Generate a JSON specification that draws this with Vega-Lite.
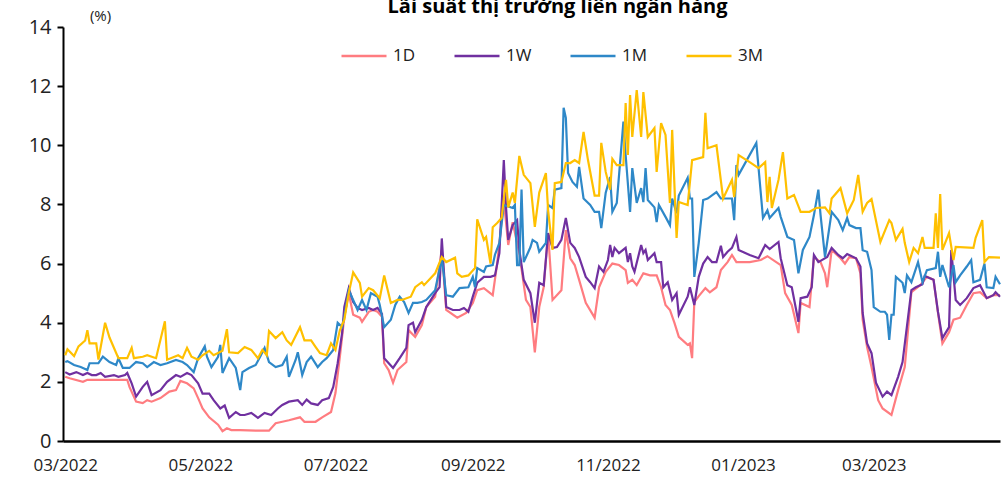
{
"$schema": "https://vega.github.io/schema/vega-lite/v6.json",
"width": 937, "height": 414,
"autosize": {"type": "none"},
"padding": {"left": 63, "top": 27, "right": 6, "bottom": 38},
"background": "white",
"config": {"view": {"stroke": null}, "font": "Open Sans"},
"title": {"text": "Lãi suất thị trường liên ngân hàng", "fontSize": 20, "fontWeight": "bold", "font": "Open Sans", "color": "#000", "anchor": "middle", "frame": "group", "dx": 26, "dy": 13},
"data": {"values": [
{"s":"1D","d":"2022-03-01","v":2.17},{"s":"1D","d":"2022-03-03","v":2.12},{"s":"1D","d":"2022-03-09","v":2.0},{"s":"1D","d":"2022-03-11","v":2.07},{"s":"1D","d":"2022-03-17","v":2.07},{"s":"1D","d":"2022-03-29","v":2.07},{"s":"1D","d":"2022-03-30","v":1.83},{"s":"1D","d":"2022-04-02","v":1.33},{"s":"1D","d":"2022-04-05","v":1.28},{"s":"1D","d":"2022-04-07","v":1.38},{"s":"1D","d":"2022-04-09","v":1.33},{"s":"1D","d":"2022-04-13","v":1.45},{"s":"1D","d":"2022-04-17","v":1.67},{"s":"1D","d":"2022-04-20","v":1.72},{"s":"1D","d":"2022-04-22","v":2.03},{"s":"1D","d":"2022-04-25","v":1.95},{"s":"1D","d":"2022-04-28","v":1.78},{"s":"1D","d":"2022-04-30","v":1.45},{"s":"1D","d":"2022-05-02","v":1.1},{"s":"1D","d":"2022-05-05","v":0.8},{"s":"1D","d":"2022-05-09","v":0.55},{"s":"1D","d":"2022-05-11","v":0.33},{"s":"1D","d":"2022-05-13","v":0.43},{"s":"1D","d":"2022-05-15","v":0.37},{"s":"1D","d":"2022-05-19","v":0.37},{"s":"1D","d":"2022-05-26","v":0.35},{"s":"1D","d":"2022-06-01","v":0.35},{"s":"1D","d":"2022-06-04","v":0.6},{"s":"1D","d":"2022-06-07","v":0.65},{"s":"1D","d":"2022-06-10","v":0.7},{"s":"1D","d":"2022-06-15","v":0.8},{"s":"1D","d":"2022-06-17","v":0.65},{"s":"1D","d":"2022-06-22","v":0.65},{"s":"1D","d":"2022-06-25","v":0.8},{"s":"1D","d":"2022-06-29","v":0.98},{"s":"1D","d":"2022-07-01","v":1.62},{"s":"1D","d":"2022-07-03","v":2.85},{"s":"1D","d":"2022-07-05","v":4.2},{"s":"1D","d":"2022-07-07","v":5.0},{"s":"1D","d":"2022-07-09","v":4.27},{"s":"1D","d":"2022-07-12","v":4.17},{"s":"1D","d":"2022-07-13","v":4.03},{"s":"1D","d":"2022-07-16","v":4.37},{"s":"1D","d":"2022-07-18","v":4.43},{"s":"1D","d":"2022-07-20","v":4.37},{"s":"1D","d":"2022-07-22","v":4.2},{"s":"1D","d":"2022-07-23","v":2.63},{"s":"1D","d":"2022-07-25","v":2.4},{"s":"1D","d":"2022-07-27","v":1.97},{"s":"1D","d":"2022-07-29","v":2.4},{"s":"1D","d":"2022-08-02","v":2.67},{"s":"1D","d":"2022-08-03","v":3.75},{"s":"1D","d":"2022-08-06","v":3.52},{"s":"1D","d":"2022-08-09","v":3.92},{"s":"1D","d":"2022-08-11","v":4.53},{"s":"1D","d":"2022-08-15","v":4.88},{"s":"1D","d":"2022-08-18","v":6.46},{"s":"1D","d":"2022-08-20","v":4.43},{"s":"1D","d":"2022-08-25","v":4.17},{"s":"1D","d":"2022-08-29","v":4.33},{"s":"1D","d":"2022-09-01","v":4.67},{"s":"1D","d":"2022-09-03","v":5.1},{"s":"1D","d":"2022-09-06","v":5.17},{"s":"1D","d":"2022-09-10","v":4.93},{"s":"1D","d":"2022-09-12","v":6.0},{"s":"1D","d":"2022-09-15","v":8.15},{"s":"1D","d":"2022-09-17","v":6.63},{"s":"1D","d":"2022-09-19","v":7.4},{"s":"1D","d":"2022-09-22","v":6.35},{"s":"1D","d":"2022-09-25","v":4.77},{"s":"1D","d":"2022-09-27","v":4.53},{"s":"1D","d":"2022-09-29","v":3.0},{"s":"1D","d":"2022-10-01","v":4.53},{"s":"1D","d":"2022-10-03","v":5.2},{"s":"1D","d":"2022-10-05","v":7.03},{"s":"1D","d":"2022-10-07","v":4.77},{"s":"1D","d":"2022-10-11","v":5.1},{"s":"1D","d":"2022-10-13","v":7.13},{"s":"1D","d":"2022-10-15","v":6.18},{"s":"1D","d":"2022-10-17","v":5.95},{"s":"1D","d":"2022-10-19","v":5.45},{"s":"1D","d":"2022-10-22","v":4.67},{"s":"1D","d":"2022-10-26","v":4.17},{"s":"1D","d":"2022-10-28","v":5.2},{"s":"1D","d":"2022-10-31","v":5.72},{"s":"1D","d":"2022-11-03","v":6.0},{"s":"1D","d":"2022-11-06","v":5.95},{"s":"1D","d":"2022-11-09","v":5.78},{"s":"1D","d":"2022-11-10","v":5.35},{"s":"1D","d":"2022-11-12","v":5.45},{"s":"1D","d":"2022-11-14","v":5.27},{"s":"1D","d":"2022-11-17","v":5.67},{"s":"1D","d":"2022-11-20","v":5.6},{"s":"1D","d":"2022-11-23","v":5.6},{"s":"1D","d":"2022-11-25","v":5.2},{"s":"1D","d":"2022-11-27","v":4.6},{"s":"1D","d":"2022-11-29","v":4.43},{"s":"1D","d":"2022-12-01","v":4.0},{"s":"1D","d":"2022-12-03","v":3.52},{"s":"1D","d":"2022-12-07","v":3.25},{"s":"1D","d":"2022-12-08","v":3.3},{"s":"1D","d":"2022-12-09","v":2.8},{"s":"1D","d":"2022-12-10","v":4.7},{"s":"1D","d":"2022-12-12","v":4.9},{"s":"1D","d":"2022-12-15","v":5.17},{"s":"1D","d":"2022-12-17","v":5.03},{"s":"1D","d":"2022-12-20","v":5.2},{"s":"1D","d":"2022-12-22","v":5.78},{"s":"1D","d":"2022-12-25","v":6.05},{"s":"1D","d":"2022-12-27","v":6.29},{"s":"1D","d":"2022-12-29","v":6.05},{"s":"1D","d":"2023-01-04","v":6.05},{"s":"1D","d":"2023-01-09","v":6.12},{"s":"1D","d":"2023-01-12","v":6.25},{"s":"1D","d":"2023-01-18","v":5.95},{"s":"1D","d":"2023-01-20","v":5.0},{"s":"1D","d":"2023-01-23","v":4.6},{"s":"1D","d":"2023-01-26","v":3.65},{"s":"1D","d":"2023-01-27","v":4.67},{"s":"1D","d":"2023-01-31","v":4.53},{"s":"1D","d":"2023-02-02","v":6.22},{"s":"1D","d":"2023-02-05","v":6.05},{"s":"1D","d":"2023-02-07","v":5.67},{"s":"1D","d":"2023-02-08","v":5.2},{"s":"1D","d":"2023-02-10","v":6.46},{"s":"1D","d":"2023-02-14","v":6.18},{"s":"1D","d":"2023-02-16","v":6.0},{"s":"1D","d":"2023-02-18","v":6.22},{"s":"1D","d":"2023-02-21","v":6.18},{"s":"1D","d":"2023-02-23","v":5.67},{"s":"1D","d":"2023-02-24","v":4.1},{"s":"1D","d":"2023-02-26","v":3.18},{"s":"1D","d":"2023-02-28","v":2.5},{"s":"1D","d":"2023-03-03","v":1.38},{"s":"1D","d":"2023-03-05","v":1.1},{"s":"1D","d":"2023-03-09","v":0.88},{"s":"1D","d":"2023-03-12","v":1.72},{"s":"1D","d":"2023-03-15","v":2.5},{"s":"1D","d":"2023-03-18","v":5.03},{"s":"1D","d":"2023-03-22","v":5.27},{"s":"1D","d":"2023-03-25","v":5.55},{"s":"1D","d":"2023-03-28","v":5.45},{"s":"1D","d":"2023-03-30","v":4.33},{"s":"1D","d":"2023-04-01","v":3.3},{"s":"1D","d":"2023-04-04","v":3.68},{"s":"1D","d":"2023-04-06","v":4.1},{"s":"1D","d":"2023-04-09","v":4.17},{"s":"1D","d":"2023-04-12","v":4.6},{"s":"1D","d":"2023-04-15","v":5.0},{"s":"1D","d":"2023-04-18","v":5.03},{"s":"1D","d":"2023-04-21","v":4.83},{"s":"1D","d":"2023-04-24","v":4.93},{"s":"1D","d":"2023-04-27","v":4.93},
{"s":"1W","d":"2022-03-01","v":2.33},{"s":"1W","d":"2022-03-03","v":2.25},{"s":"1W","d":"2022-03-06","v":2.33},{"s":"1W","d":"2022-03-09","v":2.23},{"s":"1W","d":"2022-03-11","v":2.3},{"s":"1W","d":"2022-03-13","v":2.23},{"s":"1W","d":"2022-03-15","v":2.23},{"s":"1W","d":"2022-03-17","v":2.3},{"s":"1W","d":"2022-03-19","v":2.17},{"s":"1W","d":"2022-03-23","v":2.23},{"s":"1W","d":"2022-03-25","v":2.17},{"s":"1W","d":"2022-03-28","v":2.23},{"s":"1W","d":"2022-03-29","v":2.3},{"s":"1W","d":"2022-03-31","v":1.95},{"s":"1W","d":"2022-04-02","v":1.5},{"s":"1W","d":"2022-04-05","v":1.83},{"s":"1W","d":"2022-04-07","v":2.0},{"s":"1W","d":"2022-04-09","v":1.55},{"s":"1W","d":"2022-04-13","v":1.72},{"s":"1W","d":"2022-04-16","v":2.0},{"s":"1W","d":"2022-04-20","v":2.23},{"s":"1W","d":"2022-04-22","v":2.17},{"s":"1W","d":"2022-04-25","v":2.3},{"s":"1W","d":"2022-04-27","v":2.23},{"s":"1W","d":"2022-04-30","v":1.95},{"s":"1W","d":"2022-05-02","v":1.6},{"s":"1W","d":"2022-05-05","v":1.6},{"s":"1W","d":"2022-05-07","v":1.38},{"s":"1W","d":"2022-05-10","v":1.1},{"s":"1W","d":"2022-05-12","v":1.2},{"s":"1W","d":"2022-05-14","v":0.78},{"s":"1W","d":"2022-05-17","v":0.98},{"s":"1W","d":"2022-05-19","v":0.88},{"s":"1W","d":"2022-05-21","v":0.88},{"s":"1W","d":"2022-05-24","v":0.95},{"s":"1W","d":"2022-05-27","v":0.78},{"s":"1W","d":"2022-05-30","v":0.95},{"s":"1W","d":"2022-06-02","v":0.88},{"s":"1W","d":"2022-06-05","v":1.1},{"s":"1W","d":"2022-06-07","v":1.22},{"s":"1W","d":"2022-06-10","v":1.33},{"s":"1W","d":"2022-06-14","v":1.38},{"s":"1W","d":"2022-06-16","v":1.22},{"s":"1W","d":"2022-06-18","v":1.4},{"s":"1W","d":"2022-06-20","v":1.27},{"s":"1W","d":"2022-06-23","v":1.22},{"s":"1W","d":"2022-06-25","v":1.38},{"s":"1W","d":"2022-06-28","v":1.45},{"s":"1W","d":"2022-06-30","v":1.83},{"s":"1W","d":"2022-07-02","v":2.63},{"s":"1W","d":"2022-07-04","v":3.65},{"s":"1W","d":"2022-07-05","v":4.53},{"s":"1W","d":"2022-07-07","v":5.17},{"s":"1W","d":"2022-07-09","v":4.7},{"s":"1W","d":"2022-07-11","v":4.5},{"s":"1W","d":"2022-07-13","v":4.43},{"s":"1W","d":"2022-07-16","v":4.5},{"s":"1W","d":"2022-07-18","v":4.43},{"s":"1W","d":"2022-07-20","v":4.5},{"s":"1W","d":"2022-07-22","v":4.3},{"s":"1W","d":"2022-07-23","v":2.8},{"s":"1W","d":"2022-07-27","v":2.47},{"s":"1W","d":"2022-07-30","v":2.8},{"s":"1W","d":"2022-08-02","v":3.15},{"s":"1W","d":"2022-08-03","v":3.92},{"s":"1W","d":"2022-08-05","v":4.0},{"s":"1W","d":"2022-08-06","v":3.68},{"s":"1W","d":"2022-08-09","v":4.1},{"s":"1W","d":"2022-08-11","v":4.53},{"s":"1W","d":"2022-08-15","v":5.0},{"s":"1W","d":"2022-08-17","v":5.2},{"s":"1W","d":"2022-08-18","v":6.85},{"s":"1W","d":"2022-08-20","v":4.53},{"s":"1W","d":"2022-08-23","v":4.43},{"s":"1W","d":"2022-08-26","v":4.43},{"s":"1W","d":"2022-08-28","v":4.5},{"s":"1W","d":"2022-08-30","v":4.37},{"s":"1W","d":"2022-09-01","v":4.88},{"s":"1W","d":"2022-09-03","v":5.35},{"s":"1W","d":"2022-09-06","v":5.55},{"s":"1W","d":"2022-09-09","v":5.55},{"s":"1W","d":"2022-09-11","v":5.6},{"s":"1W","d":"2022-09-13","v":6.35},{"s":"1W","d":"2022-09-15","v":9.5},{"s":"1W","d":"2022-09-16","v":7.9},{"s":"1W","d":"2022-09-17","v":6.8},{"s":"1W","d":"2022-09-19","v":7.3},{"s":"1W","d":"2022-09-21","v":7.47},{"s":"1W","d":"2022-09-22","v":6.46},{"s":"1W","d":"2022-09-24","v":5.45},{"s":"1W","d":"2022-09-27","v":5.0},{"s":"1W","d":"2022-09-29","v":4.0},{"s":"1W","d":"2022-10-01","v":5.35},{"s":"1W","d":"2022-10-03","v":5.27},{"s":"1W","d":"2022-10-05","v":7.03},{"s":"1W","d":"2022-10-07","v":6.53},{"s":"1W","d":"2022-10-09","v":6.56},{"s":"1W","d":"2022-10-11","v":6.8},{"s":"1W","d":"2022-10-13","v":7.54},{"s":"1W","d":"2022-10-15","v":6.7},{"s":"1W","d":"2022-10-17","v":6.53},{"s":"1W","d":"2022-10-19","v":6.22},{"s":"1W","d":"2022-10-22","v":5.55},{"s":"1W","d":"2022-10-24","v":5.37},{"s":"1W","d":"2022-10-26","v":5.17},{"s":"1W","d":"2022-10-28","v":5.9},{"s":"1W","d":"2022-10-30","v":5.72},{"s":"1W","d":"2022-11-01","v":6.12},{"s":"1W","d":"2022-11-02","v":6.63},{"s":"1W","d":"2022-11-03","v":6.22},{"s":"1W","d":"2022-11-04","v":6.53},{"s":"1W","d":"2022-11-06","v":6.35},{"s":"1W","d":"2022-11-09","v":6.53},{"s":"1W","d":"2022-11-10","v":6.05},{"s":"1W","d":"2022-11-11","v":6.35},{"s":"1W","d":"2022-11-12","v":5.9},{"s":"1W","d":"2022-11-13","v":5.72},{"s":"1W","d":"2022-11-16","v":6.63},{"s":"1W","d":"2022-11-17","v":6.35},{"s":"1W","d":"2022-11-18","v":6.46},{"s":"1W","d":"2022-11-19","v":6.12},{"s":"1W","d":"2022-11-22","v":6.35},{"s":"1W","d":"2022-11-23","v":6.05},{"s":"1W","d":"2022-11-25","v":6.05},{"s":"1W","d":"2022-11-26","v":5.2},{"s":"1W","d":"2022-11-28","v":5.37},{"s":"1W","d":"2022-11-30","v":4.77},{"s":"1W","d":"2022-12-02","v":5.0},{"s":"1W","d":"2022-12-03","v":4.27},{"s":"1W","d":"2022-12-07","v":4.88},{"s":"1W","d":"2022-12-08","v":5.2},{"s":"1W","d":"2022-12-10","v":4.6},{"s":"1W","d":"2022-12-12","v":5.55},{"s":"1W","d":"2022-12-14","v":6.0},{"s":"1W","d":"2022-12-16","v":6.22},{"s":"1W","d":"2022-12-18","v":6.05},{"s":"1W","d":"2022-12-20","v":6.05},{"s":"1W","d":"2022-12-22","v":6.6},{"s":"1W","d":"2022-12-23","v":6.22},{"s":"1W","d":"2022-12-25","v":6.4},{"s":"1W","d":"2022-12-27","v":6.53},{"s":"1W","d":"2022-12-29","v":6.9},{"s":"1W","d":"2022-12-30","v":6.46},{"s":"1W","d":"2023-01-04","v":6.29},{"s":"1W","d":"2023-01-08","v":6.18},{"s":"1W","d":"2023-01-11","v":6.63},{"s":"1W","d":"2023-01-13","v":6.49},{"s":"1W","d":"2023-01-17","v":6.73},{"s":"1W","d":"2023-01-18","v":6.18},{"s":"1W","d":"2023-01-21","v":5.27},{"s":"1W","d":"2023-01-23","v":5.2},{"s":"1W","d":"2023-01-26","v":4.03},{"s":"1W","d":"2023-01-27","v":4.83},{"s":"1W","d":"2023-01-30","v":4.88},{"s":"1W","d":"2023-02-01","v":5.2},{"s":"1W","d":"2023-02-02","v":6.29},{"s":"1W","d":"2023-02-04","v":6.05},{"s":"1W","d":"2023-02-08","v":6.22},{"s":"1W","d":"2023-02-10","v":6.53},{"s":"1W","d":"2023-02-13","v":6.29},{"s":"1W","d":"2023-02-15","v":6.18},{"s":"1W","d":"2023-02-17","v":6.32},{"s":"1W","d":"2023-02-21","v":6.18},{"s":"1W","d":"2023-02-23","v":5.9},{"s":"1W","d":"2023-02-24","v":4.33},{"s":"1W","d":"2023-02-26","v":3.3},{"s":"1W","d":"2023-02-28","v":2.97},{"s":"1W","d":"2023-03-02","v":1.97},{"s":"1W","d":"2023-03-05","v":1.5},{"s":"1W","d":"2023-03-07","v":1.67},{"s":"1W","d":"2023-03-09","v":1.55},{"s":"1W","d":"2023-03-12","v":2.17},{"s":"1W","d":"2023-03-14","v":2.67},{"s":"1W","d":"2023-03-18","v":5.1},{"s":"1W","d":"2023-03-20","v":5.2},{"s":"1W","d":"2023-03-23","v":5.3},{"s":"1W","d":"2023-03-24","v":5.58},{"s":"1W","d":"2023-03-28","v":5.45},{"s":"1W","d":"2023-03-30","v":4.37},{"s":"1W","d":"2023-04-01","v":3.48},{"s":"1W","d":"2023-04-04","v":3.85},{"s":"1W","d":"2023-04-05","v":6.46},{"s":"1W","d":"2023-04-07","v":4.77},{"s":"1W","d":"2023-04-09","v":4.6},{"s":"1W","d":"2023-04-12","v":4.83},{"s":"1W","d":"2023-04-15","v":5.17},{"s":"1W","d":"2023-04-18","v":5.27},{"s":"1W","d":"2023-04-21","v":4.83},{"s":"1W","d":"2023-04-24","v":4.93},{"s":"1W","d":"2023-04-25","v":5.03},{"s":"1W","d":"2023-04-27","v":4.88},
{"s":"1M","d":"2022-03-01","v":2.67},{"s":"1M","d":"2022-03-02","v":2.7},{"s":"1M","d":"2022-03-05","v":2.57},{"s":"1M","d":"2022-03-08","v":2.5},{"s":"1M","d":"2022-03-11","v":2.4},{"s":"1M","d":"2022-03-12","v":2.63},{"s":"1M","d":"2022-03-16","v":2.63},{"s":"1M","d":"2022-03-18","v":2.85},{"s":"1M","d":"2022-03-21","v":2.67},{"s":"1M","d":"2022-03-24","v":2.57},{"s":"1M","d":"2022-03-25","v":2.8},{"s":"1M","d":"2022-03-27","v":2.47},{"s":"1M","d":"2022-03-30","v":2.47},{"s":"1M","d":"2022-04-02","v":2.67},{"s":"1M","d":"2022-04-05","v":2.63},{"s":"1M","d":"2022-04-07","v":2.5},{"s":"1M","d":"2022-04-10","v":2.67},{"s":"1M","d":"2022-04-13","v":2.57},{"s":"1M","d":"2022-04-16","v":2.63},{"s":"1M","d":"2022-04-20","v":2.74},{"s":"1M","d":"2022-04-23","v":2.67},{"s":"1M","d":"2022-04-25","v":2.57},{"s":"1M","d":"2022-04-28","v":2.33},{"s":"1M","d":"2022-04-30","v":2.8},{"s":"1M","d":"2022-05-03","v":3.2},{"s":"1M","d":"2022-05-04","v":2.85},{"s":"1M","d":"2022-05-06","v":2.5},{"s":"1M","d":"2022-05-09","v":2.85},{"s":"1M","d":"2022-05-10","v":3.25},{"s":"1M","d":"2022-05-11","v":2.3},{"s":"1M","d":"2022-05-14","v":2.8},{"s":"1M","d":"2022-05-17","v":2.47},{"s":"1M","d":"2022-05-19","v":1.72},{"s":"1M","d":"2022-05-20","v":2.33},{"s":"1M","d":"2022-05-23","v":2.47},{"s":"1M","d":"2022-05-26","v":2.57},{"s":"1M","d":"2022-05-28","v":2.85},{"s":"1M","d":"2022-05-30","v":3.15},{"s":"1M","d":"2022-06-01","v":2.67},{"s":"1M","d":"2022-06-04","v":2.5},{"s":"1M","d":"2022-06-07","v":2.57},{"s":"1M","d":"2022-06-09","v":2.85},{"s":"1M","d":"2022-06-10","v":2.17},{"s":"1M","d":"2022-06-13","v":2.74},{"s":"1M","d":"2022-06-14","v":3.0},{"s":"1M","d":"2022-06-16","v":2.23},{"s":"1M","d":"2022-06-18","v":2.67},{"s":"1M","d":"2022-06-20","v":2.85},{"s":"1M","d":"2022-06-23","v":2.5},{"s":"1M","d":"2022-06-25","v":2.67},{"s":"1M","d":"2022-06-27","v":2.8},{"s":"1M","d":"2022-06-30","v":3.08},{"s":"1M","d":"2022-07-02","v":4.0},{"s":"1M","d":"2022-07-04","v":3.85},{"s":"1M","d":"2022-07-05","v":4.2},{"s":"1M","d":"2022-07-07","v":5.1},{"s":"1M","d":"2022-07-09","v":4.77},{"s":"1M","d":"2022-07-11","v":4.43},{"s":"1M","d":"2022-07-13","v":4.77},{"s":"1M","d":"2022-07-15","v":4.43},{"s":"1M","d":"2022-07-17","v":5.0},{"s":"1M","d":"2022-07-20","v":4.88},{"s":"1M","d":"2022-07-21","v":4.6},{"s":"1M","d":"2022-07-23","v":3.85},{"s":"1M","d":"2022-07-26","v":4.1},{"s":"1M","d":"2022-07-28","v":4.6},{"s":"1M","d":"2022-07-30","v":4.88},{"s":"1M","d":"2022-08-01","v":4.7},{"s":"1M","d":"2022-08-03","v":4.33},{"s":"1M","d":"2022-08-05","v":4.67},{"s":"1M","d":"2022-08-07","v":4.67},{"s":"1M","d":"2022-08-09","v":4.7},{"s":"1M","d":"2022-08-11","v":4.77},{"s":"1M","d":"2022-08-15","v":5.1},{"s":"1M","d":"2022-08-18","v":6.18},{"s":"1M","d":"2022-08-20","v":4.93},{"s":"1M","d":"2022-08-23","v":4.88},{"s":"1M","d":"2022-08-26","v":5.17},{"s":"1M","d":"2022-08-30","v":5.2},{"s":"1M","d":"2022-09-01","v":5.55},{"s":"1M","d":"2022-09-02","v":5.2},{"s":"1M","d":"2022-09-03","v":5.85},{"s":"1M","d":"2022-09-06","v":5.72},{"s":"1M","d":"2022-09-07","v":5.9},{"s":"1M","d":"2022-09-10","v":5.95},{"s":"1M","d":"2022-09-11","v":6.3},{"s":"1M","d":"2022-09-13","v":6.7},{"s":"1M","d":"2022-09-15","v":7.98},{"s":"1M","d":"2022-09-19","v":7.88},{"s":"1M","d":"2022-09-20","v":7.98},{"s":"1M","d":"2022-09-21","v":5.95},{"s":"1M","d":"2022-09-22","v":5.95},{"s":"1M","d":"2022-09-23","v":8.5},{"s":"1M","d":"2022-09-24","v":6.05},{"s":"1M","d":"2022-09-27","v":6.55},{"s":"1M","d":"2022-09-28","v":6.8},{"s":"1M","d":"2022-09-30","v":6.7},{"s":"1M","d":"2022-10-01","v":6.4},{"s":"1M","d":"2022-10-04","v":6.7},{"s":"1M","d":"2022-10-05","v":7.98},{"s":"1M","d":"2022-10-07","v":7.88},{"s":"1M","d":"2022-10-08","v":8.5},{"s":"1M","d":"2022-10-11","v":8.55},{"s":"1M","d":"2022-10-12","v":11.27},{"s":"1M","d":"2022-10-13","v":10.93},{"s":"1M","d":"2022-10-14","v":9.06},{"s":"1M","d":"2022-10-16","v":8.76},{"s":"1M","d":"2022-10-18","v":8.6},{"s":"1M","d":"2022-10-19","v":9.27},{"s":"1M","d":"2022-10-21","v":8.2},{"s":"1M","d":"2022-10-24","v":7.98},{"s":"1M","d":"2022-10-26","v":7.75},{"s":"1M","d":"2022-10-28","v":7.75},{"s":"1M","d":"2022-10-29","v":7.2},{"s":"1M","d":"2022-10-31","v":8.4},{"s":"1M","d":"2022-11-02","v":8.93},{"s":"1M","d":"2022-11-03","v":7.75},{"s":"1M","d":"2022-11-05","v":8.05},{"s":"1M","d":"2022-11-08","v":10.8},{"s":"1M","d":"2022-11-09","v":9.67},{"s":"1M","d":"2022-11-11","v":7.75},{"s":"1M","d":"2022-11-12","v":9.23},{"s":"1M","d":"2022-11-14","v":8.05},{"s":"1M","d":"2022-11-16","v":8.55},{"s":"1M","d":"2022-11-17","v":8.08},{"s":"1M","d":"2022-11-18","v":9.23},{"s":"1M","d":"2022-11-19","v":8.15},{"s":"1M","d":"2022-11-22","v":7.9},{"s":"1M","d":"2022-11-23","v":7.4},{"s":"1M","d":"2022-11-24","v":7.98},{"s":"1M","d":"2022-11-27","v":7.58},{"s":"1M","d":"2022-11-29","v":7.3},{"s":"1M","d":"2022-11-30","v":8.2},{"s":"1M","d":"2022-12-02","v":7.7},{"s":"1M","d":"2022-12-03","v":8.3},{"s":"1M","d":"2022-12-07","v":8.9},{"s":"1M","d":"2022-12-08","v":8.2},{"s":"1M","d":"2022-12-09","v":8.2},{"s":"1M","d":"2022-12-10","v":5.55},{"s":"1M","d":"2022-12-12","v":6.7},{"s":"1M","d":"2022-12-14","v":8.15},{"s":"1M","d":"2022-12-16","v":8.2},{"s":"1M","d":"2022-12-20","v":8.42},{"s":"1M","d":"2022-12-22","v":8.2},{"s":"1M","d":"2022-12-27","v":8.2},{"s":"1M","d":"2022-12-28","v":7.47},{"s":"1M","d":"2022-12-29","v":9.33},{"s":"1M","d":"2022-12-30","v":9.0},{"s":"1M","d":"2023-01-07","v":10.08},{"s":"1M","d":"2023-01-10","v":7.54},{"s":"1M","d":"2023-01-12","v":7.8},{"s":"1M","d":"2023-01-13","v":7.54},{"s":"1M","d":"2023-01-17","v":7.88},{"s":"1M","d":"2023-01-18","v":7.58},{"s":"1M","d":"2023-01-21","v":6.9},{"s":"1M","d":"2023-01-24","v":6.8},{"s":"1M","d":"2023-01-26","v":5.67},{"s":"1M","d":"2023-01-28","v":6.46},{"s":"1M","d":"2023-01-31","v":6.9},{"s":"1M","d":"2023-02-02","v":7.64},{"s":"1M","d":"2023-02-04","v":8.5},{"s":"1M","d":"2023-02-05","v":7.64},{"s":"1M","d":"2023-02-07","v":6.22},{"s":"1M","d":"2023-02-10","v":7.75},{"s":"1M","d":"2023-02-13","v":7.47},{"s":"1M","d":"2023-02-15","v":7.13},{"s":"1M","d":"2023-02-17","v":7.54},{"s":"1M","d":"2023-02-18","v":7.3},{"s":"1M","d":"2023-02-21","v":7.2},{"s":"1M","d":"2023-02-23","v":7.2},{"s":"1M","d":"2023-02-24","v":6.45},{"s":"1M","d":"2023-02-26","v":6.4},{"s":"1M","d":"2023-02-28","v":5.78},{"s":"1M","d":"2023-03-01","v":4.53},{"s":"1M","d":"2023-03-04","v":4.37},{"s":"1M","d":"2023-03-06","v":4.37},{"s":"1M","d":"2023-03-07","v":4.27},{"s":"1M","d":"2023-03-08","v":3.42},{"s":"1M","d":"2023-03-09","v":4.27},{"s":"1M","d":"2023-03-10","v":4.27},{"s":"1M","d":"2023-03-11","v":5.55},{"s":"1M","d":"2023-03-14","v":5.35},{"s":"1M","d":"2023-03-15","v":5.0},{"s":"1M","d":"2023-03-16","v":5.6},{"s":"1M","d":"2023-03-18","v":5.37},{"s":"1M","d":"2023-03-21","v":6.05},{"s":"1M","d":"2023-03-23","v":5.37},{"s":"1M","d":"2023-03-25","v":5.78},{"s":"1M","d":"2023-03-29","v":5.85},{"s":"1M","d":"2023-03-30","v":6.4},{"s":"1M","d":"2023-03-31","v":5.55},{"s":"1M","d":"2023-04-01","v":5.95},{"s":"1M","d":"2023-04-04","v":5.2},{"s":"1M","d":"2023-04-06","v":5.95},{"s":"1M","d":"2023-04-07","v":5.37},{"s":"1M","d":"2023-04-09","v":5.6},{"s":"1M","d":"2023-04-12","v":5.9},{"s":"1M","d":"2023-04-14","v":6.12},{"s":"1M","d":"2023-04-15","v":5.37},{"s":"1M","d":"2023-04-18","v":5.45},{"s":"1M","d":"2023-04-20","v":6.0},{"s":"1M","d":"2023-04-21","v":5.2},{"s":"1M","d":"2023-04-24","v":5.17},{"s":"1M","d":"2023-04-25","v":5.55},{"s":"1M","d":"2023-04-27","v":5.3},
{"s":"3M","d":"2022-03-01","v":2.9},{"s":"3M","d":"2022-03-02","v":3.1},{"s":"3M","d":"2022-03-05","v":2.87},{"s":"3M","d":"2022-03-07","v":3.2},{"s":"3M","d":"2022-03-10","v":3.4},{"s":"3M","d":"2022-03-11","v":3.75},{"s":"3M","d":"2022-03-12","v":3.3},{"s":"3M","d":"2022-03-15","v":3.3},{"s":"3M","d":"2022-03-16","v":2.75},{"s":"3M","d":"2022-03-19","v":4.0},{"s":"3M","d":"2022-03-21","v":3.5},{"s":"3M","d":"2022-03-25","v":2.8},{"s":"3M","d":"2022-03-29","v":2.8},{"s":"3M","d":"2022-03-31","v":3.15},{"s":"3M","d":"2022-04-01","v":2.8},{"s":"3M","d":"2022-04-05","v":2.85},{"s":"3M","d":"2022-04-07","v":2.9},{"s":"3M","d":"2022-04-11","v":2.8},{"s":"3M","d":"2022-04-15","v":4.05},{"s":"3M","d":"2022-04-16","v":2.75},{"s":"3M","d":"2022-04-21","v":2.9},{"s":"3M","d":"2022-04-23","v":2.8},{"s":"3M","d":"2022-04-25","v":3.15},{"s":"3M","d":"2022-04-27","v":2.85},{"s":"3M","d":"2022-04-30","v":2.75},{"s":"3M","d":"2022-05-02","v":2.9},{"s":"3M","d":"2022-05-05","v":3.05},{"s":"3M","d":"2022-05-07","v":2.9},{"s":"3M","d":"2022-05-11","v":3.05},{"s":"3M","d":"2022-05-13","v":3.78},{"s":"3M","d":"2022-05-14","v":3.0},{"s":"3M","d":"2022-05-18","v":2.97},{"s":"3M","d":"2022-05-21","v":3.18},{"s":"3M","d":"2022-05-24","v":3.08},{"s":"3M","d":"2022-05-27","v":2.8},{"s":"3M","d":"2022-05-29","v":3.08},{"s":"3M","d":"2022-05-31","v":2.9},{"s":"3M","d":"2022-06-01","v":3.72},{"s":"3M","d":"2022-06-04","v":3.48},{"s":"3M","d":"2022-06-07","v":3.68},{"s":"3M","d":"2022-06-09","v":3.4},{"s":"3M","d":"2022-06-11","v":3.25},{"s":"3M","d":"2022-06-15","v":3.85},{"s":"3M","d":"2022-06-17","v":3.4},{"s":"3M","d":"2022-06-20","v":3.4},{"s":"3M","d":"2022-06-22","v":3.18},{"s":"3M","d":"2022-06-24","v":2.97},{"s":"3M","d":"2022-06-27","v":2.9},{"s":"3M","d":"2022-06-29","v":3.3},{"s":"3M","d":"2022-07-01","v":3.08},{"s":"3M","d":"2022-07-03","v":3.75},{"s":"3M","d":"2022-07-05","v":4.1},{"s":"3M","d":"2022-07-07","v":5.0},{"s":"3M","d":"2022-07-09","v":5.7},{"s":"3M","d":"2022-07-12","v":5.35},{"s":"3M","d":"2022-07-13","v":4.88},{"s":"3M","d":"2022-07-16","v":5.17},{"s":"3M","d":"2022-07-18","v":5.1},{"s":"3M","d":"2022-07-21","v":4.83},{"s":"3M","d":"2022-07-23","v":5.6},{"s":"3M","d":"2022-07-26","v":4.67},{"s":"3M","d":"2022-07-29","v":4.77},{"s":"3M","d":"2022-07-31","v":4.77},{"s":"3M","d":"2022-08-04","v":4.88},{"s":"3M","d":"2022-08-06","v":5.2},{"s":"3M","d":"2022-08-09","v":5.37},{"s":"3M","d":"2022-08-10","v":5.27},{"s":"3M","d":"2022-08-15","v":5.67},{"s":"3M","d":"2022-08-18","v":6.22},{"s":"3M","d":"2022-08-20","v":6.05},{"s":"3M","d":"2022-08-24","v":6.2},{"s":"3M","d":"2022-08-25","v":5.67},{"s":"3M","d":"2022-08-27","v":5.55},{"s":"3M","d":"2022-08-30","v":5.6},{"s":"3M","d":"2022-09-02","v":5.85},{"s":"3M","d":"2022-09-03","v":7.5},{"s":"3M","d":"2022-09-06","v":6.8},{"s":"3M","d":"2022-09-07","v":6.9},{"s":"3M","d":"2022-09-09","v":6.0},{"s":"3M","d":"2022-09-10","v":7.23},{"s":"3M","d":"2022-09-12","v":7.37},{"s":"3M","d":"2022-09-14","v":7.54},{"s":"3M","d":"2022-09-16","v":8.83},{"s":"3M","d":"2022-09-17","v":7.9},{"s":"3M","d":"2022-09-19","v":8.4},{"s":"3M","d":"2022-09-20","v":8.05},{"s":"3M","d":"2022-09-22","v":9.64},{"s":"3M","d":"2022-09-24","v":9.0},{"s":"3M","d":"2022-09-27","v":8.72},{"s":"3M","d":"2022-09-29","v":7.24},{"s":"3M","d":"2022-10-01","v":8.4},{"s":"3M","d":"2022-10-04","v":9.06},{"s":"3M","d":"2022-10-05","v":7.8},{"s":"3M","d":"2022-10-07","v":6.46},{"s":"3M","d":"2022-10-08","v":8.72},{"s":"3M","d":"2022-10-11","v":8.76},{"s":"3M","d":"2022-10-13","v":9.4},{"s":"3M","d":"2022-10-15","v":9.4},{"s":"3M","d":"2022-10-17","v":9.5},{"s":"3M","d":"2022-10-19","v":9.4},{"s":"3M","d":"2022-10-21","v":10.45},{"s":"3M","d":"2022-10-23","v":9.5},{"s":"3M","d":"2022-10-26","v":8.3},{"s":"3M","d":"2022-10-28","v":8.3},{"s":"3M","d":"2022-10-29","v":10.08},{"s":"3M","d":"2022-10-31","v":9.1},{"s":"3M","d":"2022-11-02","v":8.5},{"s":"3M","d":"2022-11-03","v":9.54},{"s":"3M","d":"2022-11-05","v":9.33},{"s":"3M","d":"2022-11-08","v":9.33},{"s":"3M","d":"2022-11-09","v":11.43},{"s":"3M","d":"2022-11-10","v":9.67},{"s":"3M","d":"2022-11-11","v":11.7},{"s":"3M","d":"2022-11-12","v":10.28},{"s":"3M","d":"2022-11-14","v":11.87},{"s":"3M","d":"2022-11-16","v":10.28},{"s":"3M","d":"2022-11-17","v":11.8},{"s":"3M","d":"2022-11-19","v":10.28},{"s":"3M","d":"2022-11-22","v":10.58},{"s":"3M","d":"2022-11-23","v":9.1},{"s":"3M","d":"2022-11-25","v":10.75},{"s":"3M","d":"2022-11-27","v":10.35},{"s":"3M","d":"2022-11-29","v":8.05},{"s":"3M","d":"2022-11-30","v":10.52},{"s":"3M","d":"2022-12-02","v":6.87},{"s":"3M","d":"2022-12-03","v":8.08},{"s":"3M","d":"2022-12-07","v":7.98},{"s":"3M","d":"2022-12-09","v":9.5},{"s":"3M","d":"2022-12-14","v":9.6},{"s":"3M","d":"2022-12-15","v":11.1},{"s":"3M","d":"2022-12-16","v":9.9},{"s":"3M","d":"2022-12-20","v":10.0},{"s":"3M","d":"2022-12-23","v":8.2},{"s":"3M","d":"2022-12-27","v":8.83},{"s":"3M","d":"2022-12-28","v":8.25},{"s":"3M","d":"2022-12-30","v":9.67},{"s":"3M","d":"2023-01-04","v":9.43},{"s":"3M","d":"2023-01-08","v":9.23},{"s":"3M","d":"2023-01-11","v":9.43},{"s":"3M","d":"2023-01-12","v":8.08},{"s":"3M","d":"2023-01-13","v":8.93},{"s":"3M","d":"2023-01-14","v":7.88},{"s":"3M","d":"2023-01-17","v":8.83},{"s":"3M","d":"2023-01-19","v":9.77},{"s":"3M","d":"2023-01-21","v":8.2},{"s":"3M","d":"2023-01-24","v":8.32},{"s":"3M","d":"2023-01-27","v":7.75},{"s":"3M","d":"2023-01-31","v":7.75},{"s":"3M","d":"2023-02-03","v":7.88},{"s":"3M","d":"2023-02-07","v":7.9},{"s":"3M","d":"2023-02-09","v":7.7},{"s":"3M","d":"2023-02-10","v":8.2},{"s":"3M","d":"2023-02-14","v":8.55},{"s":"3M","d":"2023-02-17","v":7.7},{"s":"3M","d":"2023-02-20","v":8.15},{"s":"3M","d":"2023-02-22","v":9.0},{"s":"3M","d":"2023-02-24","v":7.75},{"s":"3M","d":"2023-02-26","v":8.05},{"s":"3M","d":"2023-02-28","v":8.18},{"s":"3M","d":"2023-03-04","v":6.73},{"s":"3M","d":"2023-03-08","v":7.47},{"s":"3M","d":"2023-03-09","v":7.37},{"s":"3M","d":"2023-03-11","v":6.8},{"s":"3M","d":"2023-03-14","v":7.17},{"s":"3M","d":"2023-03-15","v":6.7},{"s":"3M","d":"2023-03-17","v":6.05},{"s":"3M","d":"2023-03-19","v":6.53},{"s":"3M","d":"2023-03-21","v":6.35},{"s":"3M","d":"2023-03-23","v":6.9},{"s":"3M","d":"2023-03-24","v":6.53},{"s":"3M","d":"2023-03-28","v":6.53},{"s":"3M","d":"2023-03-29","v":7.7},{"s":"3M","d":"2023-03-30","v":6.53},{"s":"3M","d":"2023-03-31","v":8.35},{"s":"3M","d":"2023-04-01","v":6.46},{"s":"3M","d":"2023-04-04","v":7.03},{"s":"3M","d":"2023-04-06","v":6.12},{"s":"3M","d":"2023-04-07","v":6.56},{"s":"3M","d":"2023-04-15","v":6.53},{"s":"3M","d":"2023-04-16","v":6.87},{"s":"3M","d":"2023-04-19","v":7.47},{"s":"3M","d":"2023-04-20","v":6.05},{"s":"3M","d":"2023-04-22","v":6.22},{"s":"3M","d":"2023-04-27","v":6.2}
]},
"mark": {"type": "line", "strokeWidth": 2.2},
"encoding": {
  "x": {"field": "d", "type": "temporal",
    "scale": {"type": "utc", "domain": [{"year": 2022, "month": 2, "date": 28, "utc": true}, {"year": 2023, "month": 4, "date": 27, "utc": true}]},
    "axis": {"title": null, "format": "%m/%Y", "grid": false, "ticks": false, "labelPadding": 16, "labelFlush": false, "labelOverlap": false, "labelBound": false, "labelFontSize": 17, "labelColor": "#222", "domainColor": "#000", "domainWidth": 2.5,
      "values": [{"year": 2022, "month": 3, "date": 1, "utc": true}, {"year": 2022, "month": 5, "date": 1, "utc": true}, {"year": 2022, "month": 7, "date": 1, "utc": true}, {"year": 2022, "month": 9, "date": 1, "utc": true}, {"year": 2022, "month": 11, "date": 1, "utc": true}, {"year": 2023, "month": 1, "date": 1, "utc": true}, {"year": 2023, "month": 3, "date": 1, "utc": true}]}},
  "y": {"field": "v", "type": "quantitative",
    "scale": {"domain": [0, 14], "nice": false, "zero": true},
    "axis": {"values": [0, 2, 4, 6, 8, 10, 12, 14], "grid": false, "tickSize": 6, "tickWidth": 2, "tickColor": "#000", "domainColor": "#000", "domainWidth": 2, "labelFontSize": 20, "labelColor": "#222", "labelPadding": 6,
      "title": "(%)", "titleAngle": 0, "titleX": 37, "titleY": -12, "titleFontSize": 15, "titleFontWeight": "normal", "titleAlign": "center", "titleBaseline": "middle", "titleColor": "#222"}},
  "color": {"field": "s", "type": "nominal",
    "scale": {"domain": ["1D", "1W", "1M", "3M"], "range": ["#FF7C80", "#7030A0", "#2E88C8", "#FFC000"]},
    "legend": {"orient": "none", "legendX": 277, "legendY": 5, "direction": "horizontal", "title": null, "symbolType": "stroke", "symbolStrokeWidth": 2.5, "symbolSize": 2025, "labelFontSize": 17, "labelOffset": 5, "columnPadding": 33, "labelColor": "#222"}}
}
}
